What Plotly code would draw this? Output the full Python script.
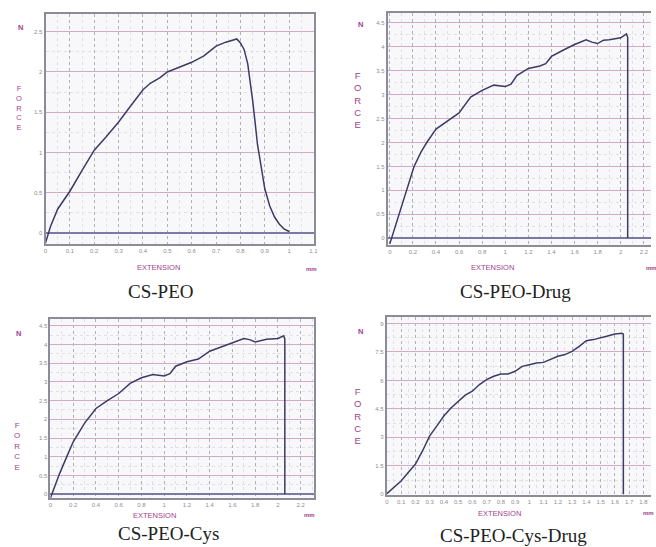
import plotly.graph_objects as go

W, H = 656, 547

# ---- force / extension readings (mm, N) ----
peo_ext = [0, 0.02, 0.05, 0.1, 0.15, 0.2, 0.25, 0.3, 0.35, 0.4, 0.43, 0.47, 0.5, 0.55,
           0.6, 0.65, 0.7, 0.74, 0.77, 0.785, 0.8, 0.815, 0.83, 0.84, 0.85, 0.86, 0.87,
           0.88, 0.89, 0.9, 0.92, 0.94, 0.96, 0.98, 1.0]
peo_force = [-0.12, 0.08, 0.3, 0.52, 0.78, 1.03, 1.2, 1.38, 1.58, 1.78, 1.86, 1.93, 2.0, 2.06,
             2.12, 2.2, 2.32, 2.37, 2.4, 2.41, 2.36, 2.28, 2.1, 1.9, 1.65, 1.38, 1.1,
             0.92, 0.72, 0.55, 0.34, 0.2, 0.11, 0.05, 0.02]

drug_ext = [0, 0.08, 0.15, 0.21, 0.27, 0.32, 0.4, 0.5, 0.6, 0.7, 0.8, 0.9, 1.0, 1.05, 1.1,
            1.2, 1.3, 1.35, 1.4, 1.5, 1.6, 1.7, 1.75, 1.8, 1.85, 1.9, 2.0, 2.05, 2.06, 2.06]
drug_force = [-0.12, 0.5, 1.0, 1.5, 1.8, 2.0, 2.28, 2.45, 2.62, 2.95, 3.09, 3.2, 3.17, 3.22, 3.4,
              3.55, 3.6, 3.65, 3.8, 3.93, 4.05, 4.15, 4.1, 4.07, 4.14, 4.15, 4.19, 4.27, 4.2, 0]

cys_ext = [0, 0.08, 0.15, 0.2, 0.3, 0.4, 0.5, 0.6, 0.7, 0.8, 0.9, 1.0, 1.05, 1.1, 1.2, 1.3,
           1.4, 1.5, 1.6, 1.7, 1.75, 1.8, 1.9, 2.0, 2.05, 2.06, 2.06]
cys_force = [-0.1, 0.55, 1.05, 1.4, 1.9, 2.29, 2.5, 2.69, 2.96, 3.11, 3.2, 3.16, 3.22, 3.42,
             3.54, 3.61, 3.82, 3.94, 4.05, 4.16, 4.13, 4.07, 4.14, 4.16, 4.23, 4.15, 0]

cysdrug_ext = [0, 0.1, 0.15, 0.2, 0.25, 0.3, 0.35, 0.4, 0.45, 0.5, 0.55, 0.6, 0.65, 0.7, 0.75,
               0.8, 0.85, 0.9, 0.95, 1.0, 1.05, 1.1, 1.15, 1.2, 1.25, 1.3, 1.35, 1.4, 1.45,
               1.5, 1.55, 1.6, 1.65, 1.66, 1.66]
cysdrug_force = [0.03, 0.7, 1.14, 1.58, 2.28, 3.06, 3.59, 4.12, 4.55, 4.9, 5.22, 5.43, 5.78,
                 6.04, 6.22, 6.34, 6.34, 6.48, 6.74, 6.83, 6.92, 6.95, 7.09, 7.27, 7.36, 7.53,
                 7.79, 8.09, 8.15, 8.23, 8.34, 8.44, 8.48, 8.44, 0]

captions = ["CS-PEO", "CS-PEO-Drug", "CS-PEO-Cys", "CS-PEO-Cys-Drug"]

# panel boxes in pixels: (left, right, top, bottom), axis ranges and tick steps
panels = [
    dict(x=peo_ext, y=peo_force, box=(44, 315, 14, 245), xr=[0, 1.1005], yr=[-0.136, 2.72],
         xd=0.1, xm=0.05, yd=0.5, ym=0.25, ymax=2.5, xmax=1.1, right=True,
         cap=(160, 293), n=(19, 28), force=(17, 108, 7.5), ext=(158, 268), mm=(313, 270)),
    dict(x=drug_ext, y=drug_force, box=(390, 656, 13, 246), xr=[-0.017, 2.262], yr=[-0.146, 4.71],
         xd=0.2, xm=0.1, yd=0.5, ym=0.25, ymax=4.5, xmax=2.2, right=False,
         cap=(519, 293), n=(362, 25), force=(359, 100, 9.5), ext=(496, 268), mm=(657, 269)),
    dict(x=cys_ext, y=cys_force, box=(49, 315, 320, 500), xr=[0, 2.3135], yr=[-0.107, 4.686],
         xd=0.2, xm=0.1, yd=0.5, ym=0.25, ymax=4.5, xmax=2.2, right=True,
         cap=(168, 535), n=(17, 335), force=(15, 448, 8), ext=(154, 517), mm=(311, 517)),
    dict(x=cysdrug_ext, y=cysdrug_force, box=(389, 656, 318, 497), xr=[0, 1.854], yr=[-0.05, 9.35],
         xd=0.1, xm=0.05, yd=1.5, ym=0.75, ymax=9, xmax=1.8, right=False,
         cap=(517, 537), n=(362, 333), force=(359, 418, 9.5), ext=(503, 515), mm=(653, 515)),
]

FRAME = "#8c8c98"
MAJOR_V = "#b0b0b8"
MAJOR_H = "#d4aacb"
MINOR = "#e0e0e7"
PURPLE = "#a2418e"
TICKC = "#8e8e8e"
CURVE = "#3b3b66"


def px(xp):
    return xp / W


def py(yp):
    return 1 - yp / H


fig = go.Figure()
layout = dict(width=W, height=H, margin=dict(l=0, r=0, t=0, b=0),
              paper_bgcolor="white", plot_bgcolor="#f8f8fb", showlegend=False, annotations=[])

for i, p in enumerate(panels, start=1):
    sfx = "" if i == 1 else str(i)
    fig.add_trace(go.Scatter(x=p["x"], y=p["y"], mode="lines",
                             line=dict(color=CURVE, width=1.5),
                             xaxis="x" + sfx, yaxis="y" + sfx, hoverinfo="skip"))
    l, r, t, b = p["box"]
    nx = round(p["xmax"] / p["xd"]) + 1
    ny = round(p["ymax"] / p["yd"]) + 1
    xt = [round(k * p["xd"], 3) for k in range(nx)]
    yt = [round(k * p["yd"], 3) for k in range(ny)]
    layout["xaxis" + sfx] = dict(
        domain=[px(l), px(r)], range=p["xr"], anchor="y" + sfx,
        tickmode="array", tickvals=xt, ticktext=[f"{v:g}" for v in xt],
        showgrid=True, gridcolor=MAJOR_V, griddash="dot", gridwidth=1.4,
        minor=dict(tick0=0, dtick=p["xm"], showgrid=True, gridcolor=MINOR, griddash="dot", gridwidth=1),
        zeroline=False, showline=True, linecolor=FRAME, linewidth=2, mirror=True,
        ticks="", tickfont=dict(size=6, color=TICKC, family="Arial"),
    )
    layout["yaxis" + sfx] = dict(
        domain=[py(b), py(t)], range=p["yr"], anchor="x" + sfx,
        tickmode="array", tickvals=yt, ticktext=[f"{v:g}" for v in yt],
        showgrid=True, gridcolor=MAJOR_H, gridwidth=1.2,
        minor=dict(tick0=0, dtick=p["ym"], showgrid=True, gridcolor=MINOR, griddash="dot", gridwidth=1),
        zeroline=True, zerolinecolor="#7a7aa2", zerolinewidth=1.6,
        showline=True, linecolor=FRAME, linewidth=2, mirror=p["right"],
        ticks="", tickfont=dict(size=6, color=TICKC, family="Arial"),
    )

    ann = layout["annotations"]
    cx, cy = p["cap"]
    ann.append(dict(text=captions[i - 1], x=px(cx), y=py(cy), xref="paper", yref="paper",
                    showarrow=False, xanchor="center", yanchor="middle",
                    font=dict(family="Liberation Serif", size=19, color="#222222")))
    nx_, ny_ = p["n"]
    ann.append(dict(text="<b>N</b>", x=px(nx_), y=py(ny_), xref="paper", yref="paper",
                    showarrow=False, xanchor="center", yanchor="middle",
                    font=dict(family="Arial", size=7.5, color=PURPLE)))
    fx, fy, fs = p["force"]
    ann.append(dict(text="F<br>O<br>R<br>C<br>E", x=px(fx), y=py(fy), xref="paper", yref="paper",
                    showarrow=False, xanchor="center", yanchor="middle", align="center",
                    font=dict(family="Arial", size=fs, color=PURPLE)))
    ex, ey = p["ext"]
    ann.append(dict(text="EXTENSION", x=px(ex), y=py(ey), xref="paper", yref="paper",
                    showarrow=False, xanchor="center", yanchor="middle",
                    font=dict(family="Arial", size=7.5, color=PURPLE)))
    mx, my = p["mm"]
    ann.append(dict(text="<b>mm</b>", x=px(mx), y=py(my), xref="paper", yref="paper",
                    showarrow=False, xanchor="center", yanchor="middle",
                    font=dict(family="Arial", size=6, color=PURPLE)))

fig.update_layout(**layout)
fig.write_html("out.html")
